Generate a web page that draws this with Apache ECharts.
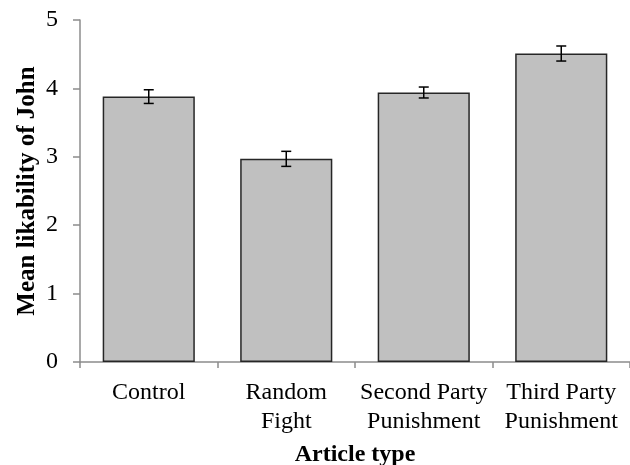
<!DOCTYPE html>
<html>
<head>
<meta charset="utf-8">
<script src="https://cdn.jsdelivr.net/npm/echarts@6/dist/echarts.min.js"></script>
<style>
  html, body { margin: 0; padding: 0; background: #fff; }
  #chart { width: 630px; height: 465px; }
</style>
</head>
<body>
<div id="chart"></div>
<script>
// Article conditions and their mean likability ratings (with standard errors)
const categories = ['Control', 'Random\nFight', 'Second Party\nPunishment', 'Third Party\nPunishment'];
const means = [3.88, 2.97, 3.94, 4.51];
const errors = [0.10, 0.11, 0.08, 0.11];
const yTicks = [0, 1, 2, 3, 4, 5];

const serif = '"Liberation Serif", "Times New Roman", serif';

const errorData = means.map((m, i) => [i, m - errors[i], m + errors[i]]);

const chart = echarts.init(document.getElementById('chart'));
chart.setOption({
  animation: false,
  backgroundColor: '#fff',
  grid: { left: 80, right: 0, top: 20, bottom: 103, containLabel: false, outerBoundsMode: 'none' },
  xAxis: {
    type: 'category',
    data: categories,
    name: 'Article type',
    nameLocation: 'middle',
    nameGap: 81,
    nameMoveOverlap: false,
    nameTextStyle: { fontFamily: serif, fontSize: 24, fontWeight: 'bold', color: '#000' },
    axisLine: { lineStyle: { color: '#8c8c8c', width: 1.5 } },
    axisTick: { show: true, alignWithLabel: false, length: 6, lineStyle: { color: '#8c8c8c', width: 1.5 } },
    axisLabel: { fontFamily: serif, fontSize: 24, color: '#000', margin: 16, lineHeight: 29, interval: 0 }
  },
  yAxis: {
    type: 'value',
    min: yTicks[0],
    max: yTicks[yTicks.length - 1],
    interval: 1,
    name: 'Mean likability of John',
    nameLocation: 'middle',
    nameGap: 40,
    nameMoveOverlap: false,
    nameTextStyle: { fontFamily: serif, fontSize: 25, fontWeight: 'bold', color: '#000' },
    axisLine: { show: true, lineStyle: { color: '#8c8c8c', width: 1.5 } },
    axisTick: { show: true, length: 7, lineStyle: { color: '#8c8c8c', width: 1.5 } },
    splitLine: { show: false },
    axisLabel: { fontFamily: serif, fontSize: 24, color: '#000', margin: 22 }
  },
  series: [
    {
      type: 'bar',
      data: means,
      barCategoryGap: '33%',
      itemStyle: { color: '#c0c0c0', borderColor: '#262626', borderWidth: 1.5 }
    },
    {
      type: 'custom',
      data: errorData,
      z: 10,
      renderItem: function (params, api) {
        const x = api.value(0);
        const lo = api.coord([x, api.value(1)]);
        const hi = api.coord([x, api.value(2)]);
        const half = 5;
        const style = { stroke: '#000', lineWidth: 1.5, fill: null };
        return {
          type: 'group',
          children: [
            { type: 'line', shape: { x1: lo[0], y1: lo[1], x2: hi[0], y2: hi[1] }, style: style },
            { type: 'line', shape: { x1: hi[0] - half, y1: hi[1], x2: hi[0] + half, y2: hi[1] }, style: style },
            { type: 'line', shape: { x1: lo[0] - half, y1: lo[1], x2: lo[0] + half, y2: lo[1] }, style: style }
          ]
        };
      }
    }
  ]
});
</script>
</body>
</html>
